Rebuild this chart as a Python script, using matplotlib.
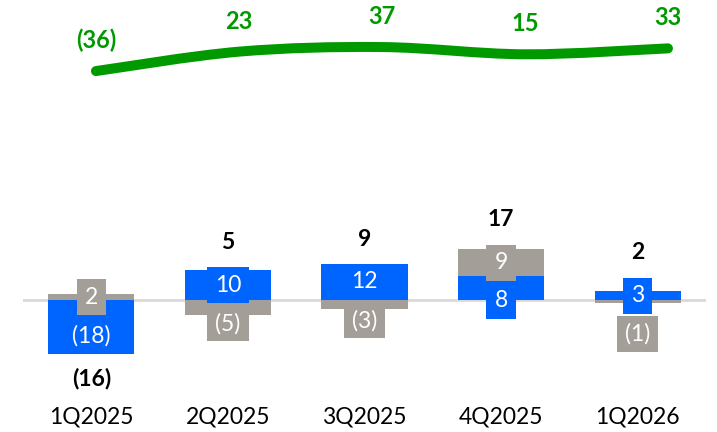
import numpy as np
import matplotlib
matplotlib.use("Agg")
import matplotlib.pyplot as plt
from matplotlib.patches import Rectangle, PathPatch
from matplotlib.path import Path

# ---- data ----
quarters = ["1Q2025", "2Q2025", "3Q2025", "4Q2025", "1Q2026"]
blue_vals = [-18, 10, 12, 8, 3]
gray_vals = [2, -5, -3, 9, -1]
totals = [-16, 5, 9, 17, 2]
green_vals = [-36, 23, 37, 15, 33]

BLUE = "#0064FF"
GRAY = "#A39E98"
GREEN = "#009A00"
FONT = "Lato"

plt.rcParams["font.family"] = [FONT, "DejaVu Sans"]


def fmt(v):
    return f"({abs(v)})" if v < 0 else f"{v}"


W, H = 717, 432
fig = plt.figure(figsize=(W / 100, H / 100), dpi=100)
rect = [23 / W, 0, 683 / W, 1]

ax = fig.add_axes(rect)
ax.set_xlim(-0.5, 4.5)
ax.set_ylim(-44, 100)
ax.axis("off")

lx = fig.add_axes(rect, zorder=5)
lx.set_xlim(-0.51, 4.266)
lx.set_ylim(-1133, 180)
lx.axis("off")
lx.patch.set_alpha(0)

x = np.arange(len(quarters))
bar_w = 0.63
box_h = 12.0
push_gap = 12.8
px_per_x = 683 / 5.0

ax.axhline(0, color="#D9D9D9", lw=2, zorder=1)

# stacked diverging bars
series = [(blue_vals, BLUE), (gray_vals, GRAY)]
segs = [[] for _ in x]
pos = np.zeros(len(x))
neg = np.zeros(len(x))
for vals, col in series:
    vals = np.asarray(vals, float)
    bottoms = np.where(vals >= 0, pos, neg)
    ax.bar(x, vals, bar_w, bottom=bottoms, color=col, zorder=2)
    for i, (v, b) in enumerate(zip(vals, bottoms)):
        segs[i].append((v, b, col))
    pos = np.where(vals >= 0, pos + vals, pos)
    neg = np.where(vals < 0, neg + vals, neg)

# value boxes: upper segment centred, lower one pushed below it
texts = []
for i, s in enumerate(segs):
    ordered = sorted(s, key=lambda t: max(t[1], t[1] + t[0]), reverse=True)
    centers = []
    for k, (v, b, col) in enumerate(ordered):
        c = b + v / 2
        if k > 0:
            c = min(c, centers[-1] - push_gap)
        centers.append(c)
        t = ax.text(x[i], c, fmt(int(v)), color="white", fontsize=16.5,
                    ha="center", va="center", zorder=4)
        texts.append((t, i, c, col))
    top = centers[0] + box_h / 2
    bot = centers[-1] - box_h / 2
    if totals[i] >= 0:
        ax.text(x[i], top + 8.3, fmt(totals[i]), fontsize=16.5, fontweight="bold",
                ha="center", va="center", color="black")
    else:
        ax.text(x[i], bot - 8.5, fmt(totals[i]), fontsize=16.5, fontweight="bold",
                ha="center", va="center", color="black")

fig.canvas.draw()
r = fig.canvas.get_renderer()
for t, i, c, col in texts:
    wpx = t.get_window_extent(r).width + 16
    wd = wpx / px_per_x
    ax.add_patch(Rectangle((x[i] - wd / 2, c - box_h / 2), wd, box_h,
                           facecolor=col, edgecolor="none", zorder=3))

# category labels
for i, q in enumerate(quarters):
    ax.text(x[i], -39, q, fontsize=16.5, ha="center", va="center", color="black")

# smooth green line (Catmull-Rom through the points)
gx = np.arange(len(green_vals), dtype=float)
gy = np.asarray(green_vals, float)
P = np.column_stack([gx, gy])
ext = np.vstack([P[0], P, P[-1]])
verts = [tuple(P[0])]
codes = [Path.MOVETO]
for k in range(len(P) - 1):
    p0, p1, p2, p3 = ext[k], ext[k + 1], ext[k + 2], ext[k + 3]
    c1 = p1 + (p2 - p0) / 6
    c2 = p2 - (p3 - p1) / 6
    verts += [tuple(c1), tuple(c2), tuple(p2)]
    codes += [Path.CURVE4] * 3
lx.add_patch(PathPatch(Path(verts, codes), facecolor="none", edgecolor=GREEN,
                       lw=7.2, capstyle="round", joinstyle="round"))
for xi, v in zip(gx, gy):
    lx.annotate(fmt(int(v)), (xi, v), xytext=(0, 22), textcoords="offset points",
                ha="center", va="center", fontsize=17, fontweight="bold", color=GREEN)

fig.savefig("out.png", dpi=100)
